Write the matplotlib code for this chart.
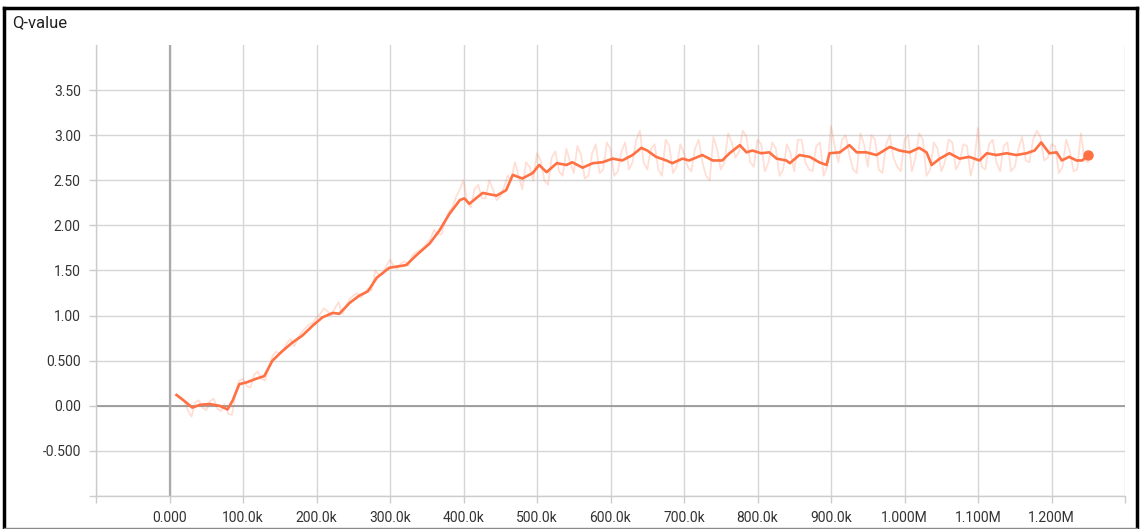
"""Recreate the TensorBoard-style Q-value chart."""

import matplotlib

matplotlib.use("Agg")
import matplotlib.pyplot as plt
from matplotlib.lines import Line2D

plt.rcParams["font.family"] = ["Roboto", "DejaVu Sans"]

# smoothed curve (step, value)
smooth_steps = [
    9.5e3, 20e3, 31e3, 41e3, 54e3, 68e3, 79e3, 86e3, 95e3, 105e3, 118e3, 129e3,
    140e3, 154e3, 167e3, 181e3, 195e3, 208e3, 222e3, 231e3, 245e3, 258e3, 270e3,
    282e3, 299e3, 322e3, 336e3, 354e3, 367e3, 381e3, 395e3, 401e3, 408e3, 426e3,
    445e3, 458e3, 467e3, 480e3, 494e3, 503e3, 513e3, 527e3, 540e3, 548e3, 562e3,
    576e3, 589e3, 603e3, 616e3, 630e3, 642e3, 650e3, 662e3, 676e3, 684e3, 698e3,
    707e3, 725e3, 739e3, 752e3, 762e3, 776e3, 785e3, 793e3, 805e3, 816e3, 826e3,
    839e3, 844e3, 857e3, 871e3, 884e3, 894e3, 898e3, 912e3, 925e3, 935e3, 948e3,
    962e3, 980e3, 993e3, 1007e3, 1020e3, 1030e3, 1037e3, 1048e3, 1061e3, 1075e3,
    1088e3, 1102e3, 1112e3, 1125e3, 1139e3, 1152e3, 1166e3, 1177e3, 1186e3,
    1197e3, 1207e3, 1214e3, 1224e3, 1234e3, 1242e3, 1249e3,
]
smooth_values = [
    0.12, 0.055, -0.02, 0.01, 0.02, 0.0, -0.04, 0.06, 0.24, 0.26, 0.30, 0.33,
    0.50, 0.61, 0.70, 0.78, 0.89, 0.98, 1.03, 1.02, 1.14, 1.22, 1.27,
    1.42, 1.53, 1.56, 1.67, 1.80, 1.94, 2.13, 2.28, 2.30, 2.24, 2.36,
    2.33, 2.39, 2.56, 2.52, 2.58, 2.67, 2.59, 2.69, 2.67, 2.70, 2.64,
    2.69, 2.70, 2.74, 2.72, 2.78, 2.86, 2.83, 2.76, 2.72, 2.69, 2.74,
    2.72, 2.78, 2.72, 2.72, 2.80, 2.89, 2.81, 2.83, 2.80, 2.81, 2.74,
    2.72, 2.69, 2.78, 2.76, 2.70, 2.67, 2.80, 2.81, 2.89, 2.81, 2.81,
    2.78, 2.87, 2.83, 2.81, 2.86, 2.81, 2.67, 2.74, 2.80, 2.74,
    2.76, 2.72, 2.80, 2.78, 2.80, 2.78, 2.80, 2.83, 2.92,
    2.80, 2.81, 2.72, 2.76, 2.72, 2.72, 2.78,
]

# raw (unsmoothed) series at 10k, 20k, ... 1250k
raw_values = [
    0.12, 0.05, -0.12, 0.06, -0.05, 0.08, -0.06, -0.09, 0.15, 0.30,
    0.20, 0.38, 0.28, 0.55, 0.58, 0.70, 0.66, 0.82, 0.90, 0.98,
    1.08, 1.00, 1.15, 1.10, 1.22, 1.20, 1.30, 1.50, 1.46, 1.62,
    1.52, 1.60, 1.66, 1.72, 1.80, 1.95, 1.90, 2.15, 2.32, 2.50,
    2.20, 2.45, 2.30, 2.40, 2.32, 2.55, 2.70, 2.40, 2.65, 2.80,
    2.50, 2.75, 2.60, 2.85, 2.58, 2.78, 2.55, 2.90, 2.62, 2.85,
    2.60, 2.92, 2.70, 3.05, 2.62, 2.90, 2.55, 2.88, 2.65, 2.80,
    2.60, 2.95, 2.55, 2.98, 2.62, 3.02, 2.75, 3.05, 2.70, 2.95,
    2.60, 2.92, 2.55, 2.90, 2.60, 2.95, 2.62, 2.88, 2.55, 3.10,
    2.70, 3.00, 2.62, 3.02, 2.65, 2.95, 2.58, 3.00, 2.65, 2.95,
    2.60, 3.02, 2.55, 2.92, 2.60, 2.95, 2.62, 2.90, 2.55, 3.08,
    2.62, 2.95, 2.60, 2.92, 2.65, 2.98, 2.70, 3.05, 2.72, 2.90,
    2.58, 2.95, 2.60, 3.02, 2.70,
]
# raw series in between, at 15k, 25k, ... 1245k
raw_mid_values = [
    0.10, -0.05, 0.04, -0.02, 0.05, -0.03, 0.02, -0.10, 0.28,
    0.22, 0.34, 0.30, 0.42, 0.60, 0.62, 0.74, 0.76, 0.86, 0.92,
    1.02, 1.05, 1.08, 1.02, 1.18, 1.25, 1.24, 1.28, 1.45, 1.55,
    1.55, 1.58, 1.55, 1.70, 1.75, 1.85, 1.90, 2.05, 2.20, 2.40,
    2.25, 2.40, 2.30, 2.50, 2.28, 2.42, 2.50, 2.55, 2.70, 2.50,
    2.72, 2.45, 2.82, 2.55, 2.70, 2.88, 2.52, 2.80, 2.58, 2.92,
    2.55, 2.82, 2.62, 2.95, 2.70, 2.85, 2.62, 2.95, 2.58, 2.90,
    2.65, 2.85, 2.70, 2.50, 2.85, 2.70, 2.92, 2.82, 2.98, 2.65,
    2.90, 2.70, 2.85, 2.62, 2.80, 2.95, 2.70, 2.60, 2.92, 2.65,
    2.88, 2.95, 2.78, 2.58, 2.90, 3.00, 2.62, 2.90, 2.75, 2.60,
    3.00, 2.75, 2.95, 2.62, 2.85, 2.70, 2.92, 2.70, 2.88, 2.72,
    2.65, 2.90, 2.70, 2.88, 2.60, 2.85, 2.72, 2.95, 2.98, 2.75,
    2.88, 2.65, 2.82, 2.62, 2.72,
]

x_ticks = [k * 100e3 for k in range(-1, 14)]
x_labels = ["", "0.000", "100.0k", "200.0k", "300.0k", "400.0k", "500.0k",
            "600.0k", "700.0k", "800.0k", "900.0k", "1.000M", "1.100M",
            "1.200M", ""]
y_ticks = [-1.0, -0.5, 0.0, 0.5, 1.0, 1.5, 2.0, 2.5, 3.0, 3.5]
y_labels = ["", "-0.500", "0.00", "0.500", "1.00", "1.50", "2.00", "2.50",
            "3.00", "3.50"]

title = "Q-value"
line_color = "#ff7043"

# merge the two raw lists into one step-ordered series
raw_pairs = [(10e3 * (i + 1), v) for i, v in enumerate(raw_values)]
raw_pairs += [(15e3 + 10e3 * i, v) for i, v in enumerate(raw_mid_values)]
raw_pairs.sort()
raw_steps = [p[0] for p in raw_pairs]
raw_series = [p[1] for p in raw_pairs]

W, H = 1141, 529
fig = plt.figure(figsize=(W / 100, H / 100), dpi=100)
ax = fig.add_axes([96 / W, 1 - 496 / H, (1125 - 96) / W, (496 - 45) / H])

ax.plot(raw_steps, raw_series, color=line_color, alpha=0.22, linewidth=1.3, zorder=2)
ax.plot(smooth_steps, smooth_values, color=line_color, linewidth=1.9, zorder=3)
ax.plot(smooth_steps[-1:], smooth_values[-1:], "o", color=line_color,
        markersize=6.5, zorder=4)

ax.axhline(0, color="#999999", linewidth=1.3, zorder=1)
ax.axvline(0, color="#aaaaaa", linewidth=1.6, zorder=1)

ax.set_xlim(-100e3, 1300e3)
ax.set_ylim(-1.0, 4.0)
ax.set_xticks(x_ticks)
ax.set_xticklabels(x_labels)
ax.set_yticks(y_ticks)
ax.set_yticklabels(y_labels)
ax.grid(True, color="#d6d6d6", linewidth=1, zorder=0)
ax.set_axisbelow(True)

for side in ("top", "right"):
    ax.spines[side].set_visible(False)
for side in ("left", "bottom"):
    ax.spines[side].set_color("#cccccc")
    ax.spines[side].set_linewidth(1)
ax.tick_params(colors="#333333", labelsize=10, length=5, width=1, pad=6)
ax.tick_params(axis="both", color="#cccccc")

fig.text(12 / W, 1 - 23 / H, title, fontsize=12, color="#212121",
         ha="left", va="center")

# outer frame
fig.add_artist(Line2D([4 / W, 4 / W], [0, 1 - 8 / H], color="black", linewidth=2.5))
fig.add_artist(Line2D([4 / W, 1137 / W], [1 - 8 / H, 1 - 8 / H], color="black", linewidth=2.5))
fig.add_artist(Line2D([1137 / W, 1137 / W], [0, 1 - 8 / H], color="black", linewidth=2.5))
fig.add_artist(Line2D([4 / W, 1137 / W], [1 / H, 1 / H], color="#888888", linewidth=1))

fig.savefig("out.png", dpi=100)
